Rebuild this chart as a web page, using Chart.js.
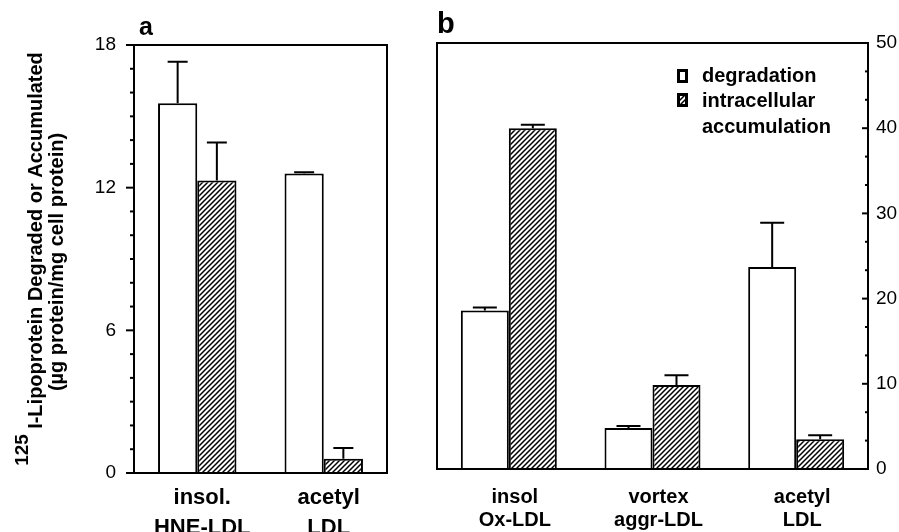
<!DOCTYPE html>
<html><head><meta charset="utf-8">
<script src="https://cdn.jsdelivr.net/npm/chart.js@4.4.1/dist/chart.umd.min.js"></script>
<style>
html,body{margin:0;padding:0;background:#fff;}
#wrap{position:relative;width:899px;height:532px;overflow:hidden;background:#fff;}
#pa{position:absolute;left:0;top:0;width:420px;height:532px;}
#pb{position:absolute;left:420px;top:0;width:479px;height:532px;}
canvas{display:block;}
</style></head><body>
<div id="wrap">
  <div id="pa"><canvas id="ca" width="420" height="532" style="width:420px;height:532px"></canvas></div>
  <div id="pb"><canvas id="cb" width="479" height="532" style="width:479px;height:532px"></canvas></div>
</div>
<script>
// ---- data: panel a ----
const catsA = [['insol.', 'HNE-LDL'], ['acetyl', 'LDL']];
const degA = [15.55, 12.6];
const degErrA = [1.75, 0.05];
const accA = [12.3, 0.6];
const accErrA = [1.6, 0.45];
const ticksA = [0, 6, 12, 18];

// ---- data: panel b ----
const catsB = [['insol', 'Ox-LDL'], ['vortex', 'aggr-LDL'], ['acetyl', 'LDL']];
const degB = [18.6, 4.8, 23.7];
const degErrB = [0.35, 0.25, 5.2];
const accB = [40.0, 9.85, 3.5];
const accErrB = [0.4, 1.15, 0.45];
const ticksB = [0, 10, 20, 30, 40, 50];

const seriesNames = ['degradation', 'intracellular accumulation'];
const legendLines = [['degradation'], ['intracellular', 'accumulation']];
const yTitleSup = '125';
const yTitleLine1 = 'I-Lipoprotein Degraded or Accumulated';
const yTitleLine2 = '(\u00B5g protein/mg cell protein)';

const FONT = "'Liberation Sans', Arial, Helvetica, sans-serif";

function hatch(ctx) {
  const c = document.createElement('canvas');
  c.width = 5; c.height = 5;
  const g = c.getContext('2d');
  g.fillStyle = '#fff'; g.fillRect(0, 0, 5, 5);
  g.strokeStyle = '#000'; g.lineWidth = 1.5;
  g.beginPath();
  g.moveTo(-1, 6); g.lineTo(6, -1);
  g.moveTo(-1, 1); g.lineTo(1, -1);
  g.moveTo(4, 6); g.lineTo(6, 4);
  g.stroke();
  return ctx.createPattern(c, 'repeat');
}

const decor = {
  id: 'decor',
  afterDraw(chart, args, o) {
    const { ctx, chartArea: ca } = chart;
    const y = chart.scales.y;
    ctx.save();
    ctx.strokeStyle = '#000'; ctx.fillStyle = '#000';
    ctx.lineWidth = 2; ctx.lineCap = 'butt';
    // error bars (upper whisker only)
    o.errs.forEach((errs, di) => {
      const meta = chart.getDatasetMeta(di);
      meta.data.forEach((bar, i) => {
        const v = chart.data.datasets[di].data[i];
        const top = y.getPixelForValue(v + errs[i]);
        const bt = y.getPixelForValue(v);
        ctx.beginPath();
        ctx.moveTo(bar.x, bt); ctx.lineTo(bar.x, top);
        ctx.moveTo(bar.x - o.cap / 2, top); ctx.lineTo(bar.x + o.cap / 2, top);
        ctx.stroke();
      });
    });
    // frame
    ctx.strokeRect(ca.left, ca.top, ca.right - ca.left, ca.bottom - ca.top);
    // ticks (major + minor)
    const ax = o.side === 'left' ? ca.left : ca.right;
    const n = Math.round((y.max - y.min) / o.minor);
    for (let i = 0; i <= n; i++) {
      const v = y.min + i * o.minor;
      const r = v / o.major;
      const major = Math.abs(r - Math.round(r)) < 1e-6;
      const len = major ? o.majLen : o.minLen;
      const py = y.getPixelForValue(v);
      ctx.beginPath(); ctx.moveTo(ax, py); ctx.lineTo(ax + o.dir * len, py); ctx.stroke();
    }
    // panel letter
    ctx.font = `bold ${o.letterSize}px ${FONT}`;
    ctx.textAlign = 'left'; ctx.textBaseline = 'alphabetic';
    ctx.fillText(o.letter, ca.left + o.letterDx, ca.top - 10);
    // legend
    if (o.legend) {
      const lx = ca.left + 240, tx = ca.left + 265;
      const boxes = [ca.top + 26, ca.top + 50];
      const fills = ['#fff', o.pattern];
      boxes.forEach((by, k) => {
        ctx.fillStyle = '#000'; ctx.fillRect(lx, by, 11, 14);
        ctx.fillStyle = fills[k]; ctx.fillRect(lx + 3, by + 3, 5, 8);
      });
      ctx.fillStyle = '#000';
      ctx.font = `bold 20px ${FONT}`;
      ctx.textBaseline = 'middle';
      const ys = [[ca.top + 33], [ca.top + 58, ca.top + 84]];
      legendLines.forEach((lines, k) => lines.forEach((t, j) => ctx.fillText(t, tx, ys[k][j])));
    }
    // y axis title
    if (o.yTitle) {
      const yc = (ca.top + ca.bottom) / 2;
      ctx.translate(42, yc);
      ctx.rotate(-Math.PI / 2);
      ctx.textBaseline = 'alphabetic';
      ctx.font = `bold 19px ${FONT}`;
      const ws = ctx.measureText(yTitleSup + ' ').width;
      ctx.font = `bold 20px ${FONT}`;
      const wm = ctx.measureText(yTitleLine1).width;
      const sx = -(ws + wm) / 2;
      ctx.textAlign = 'left';
      ctx.font = `bold 19px ${FONT}`;
      ctx.fillText(yTitleSup, sx, -14);
      ctx.font = `bold 20px ${FONT}`;
      ctx.fillText(yTitleLine1, sx + ws, 0);
      ctx.textAlign = 'center';
      ctx.fillText(yTitleLine2, -3, 21);
    }
    ctx.restore();
  }
};

function makeChart(id, cats, deg, acc, degErr, accErr, ticks, cfg) {
  const ctx = document.getElementById(id).getContext('2d');
  const pat = hatch(ctx);
  return new Chart(ctx, {
    type: 'bar',
    data: {
      labels: cats,
      datasets: [
        { label: seriesNames[0], data: deg, backgroundColor: '#fff', borderColor: '#000', borderWidth: 2,
          barPercentage: 1, categoryPercentage: cfg.catPct },
        { label: seriesNames[1], data: acc, backgroundColor: pat, borderColor: '#000', borderWidth: 2,
          barPercentage: 1, categoryPercentage: cfg.catPct }
      ]
    },
    options: {
      responsive: false,
      animation: false,
      devicePixelRatio: 1,
      layout: { padding: cfg.padding },
      plugins: {
        legend: { display: false },
        tooltip: { enabled: false },
        decor: {
          errs: [degErr, accErr], cap: cfg.cap, side: cfg.side, dir: -1,
          major: ticks[1] - ticks[0], minor: cfg.minor, majLen: cfg.majLen, minLen: cfg.minLen,
          letter: cfg.letter, letterSize: cfg.letterSize, letterDx: cfg.letterDx,
          legend: cfg.legend, pattern: pat, yTitle: cfg.yTitle
        }
      },
      scales: {
        x: {
          type: 'category', offset: true,
          grid: { display: false, drawTicks: false }, border: { display: false },
          ticks: { color: '#000', autoSkip: false, maxRotation: 0, padding: cfg.xPad, labelOffset: cfg.labelOffset,
            font: { family: FONT, size: cfg.xFont, weight: 'bold', lineHeight: cfg.xLine } },
          afterFit: s => { s.height = cfg.xH; }
        },
        y: {
          position: cfg.side, min: ticks[0], max: ticks[ticks.length - 1],
          grid: { display: false, drawTicks: false }, border: { display: false },
          ticks: { color: '#000', padding: cfg.yPad, font: { family: FONT, size: 19 } },
          afterBuildTicks: s => { s.ticks = ticks.map(v => ({ value: v })); },
          afterFit: s => { s.width = cfg.yW; }
        }
      }
    },
    plugins: [decor]
  });
}

makeChart('ca', catsA, degA, accA, degErrA, accErrA, ticksA, {
  catPct: 0.62, padding: { left: 94, right: 33, top: 45, bottom: 0 },
  xH: 59, yW: 40, xPad: 10, xFont: 22, xLine: '30px', labelOffset: 5, yPad: 18,
  side: 'left', minor: 1, majLen: 8, minLen: 4, cap: 20,
  letter: 'a', letterSize: 25, letterDx: 5, legend: false, yTitle: true
});

makeChart('cb', catsB, degB, accB, degErrB, accErrB, ticksB, {
  catPct: 0.668, padding: { left: 17, right: 0, top: 43, bottom: 0 },
  xH: 63, yW: 31, xPad: 17, xFont: 20, xLine: '23px', labelOffset: 6, yPad: 8,
  side: 'right', minor: 10 / 3, majLen: 6, minLen: 3, cap: 24,
  letter: 'b', letterSize: 29, letterDx: 0, legend: true, yTitle: false
});
</script>
</body></html>
